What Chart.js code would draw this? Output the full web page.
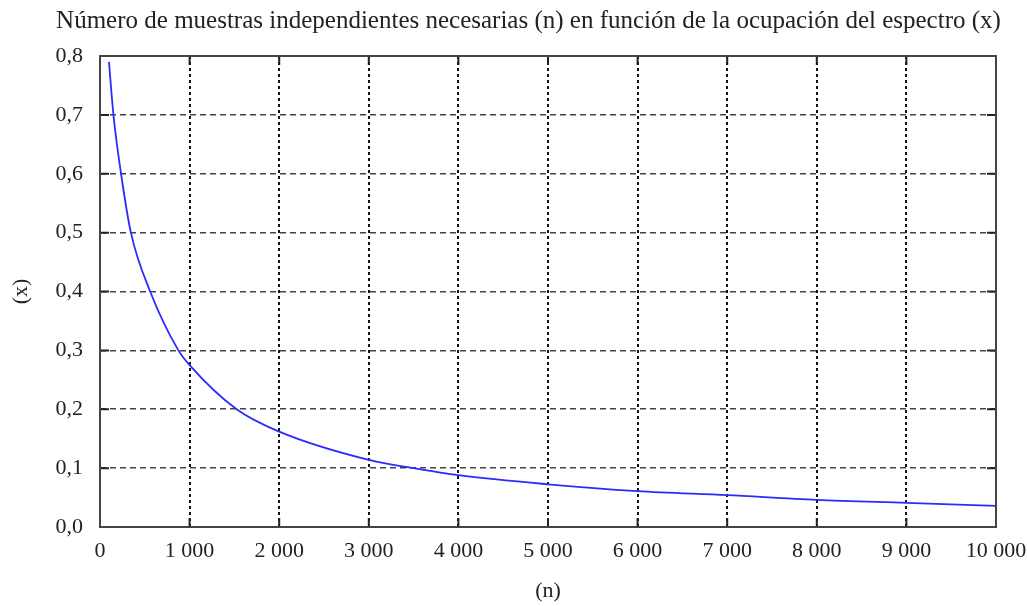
<!DOCTYPE html>
<html>
<head>
<meta charset="utf-8">
<script src="https://cdn.jsdelivr.net/npm/chart.js@4"></script>
<style>
html,body{margin:0;padding:0;background:#fff;}
#wrap{width:1027px;height:606px;}
</style>
</head>
<body>
<div id="wrap"><canvas id="c" width="1027" height="606"></canvas></div>
<script>
const chartTitle = 'Número de muestras independientes necesarias (n) en función de la ocupación del espectro (x)';
const xAxisTitle = '(n)';
const yAxisTitle = '(x)';
const samplesN = [100, 150, 235, 345, 560, 875, 1000, 1525, 2000, 3000, 3500, 4000, 5000, 6000, 7000, 8000, 9000, 10000];
const occupancyX = [0.79, 0.70, 0.60, 0.50, 0.40, 0.30, 0.275, 0.20, 0.162, 0.114, 0.10, 0.088, 0.0725, 0.061, 0.054, 0.046, 0.041, 0.036];
const xTickValues = [0, 1000, 2000, 3000, 4000, 5000, 6000, 7000, 8000, 9000, 10000];
const yTickValues = [0, 0.1, 0.2, 0.3, 0.4, 0.5, 0.6, 0.7, 0.8];

const FONT = "'Liberation Serif', 'Times New Roman', serif";

const fmtX = v => String(Math.round(v)).replace(/\B(?=(\d{3})+(?!\d))/g, ' ');
const fmtY = v => Number(v).toFixed(1).replace('.', ',');

const frameTicks = {
  id: 'frameTicks',
  afterDatasetsDraw(chart) {
    const {ctx, chartArea: a, scales} = chart;
    ctx.save();
    ctx.strokeStyle = '#222';
    ctx.lineWidth = 2;
    const L = 9;
    ctx.beginPath();
    scales.x.ticks.forEach(t => {
      const px = scales.x.getPixelForValue(t.value);
      ctx.moveTo(px, a.bottom); ctx.lineTo(px, a.bottom - L);
      ctx.moveTo(px, a.top); ctx.lineTo(px, a.top + L);
    });
    scales.y.ticks.forEach(t => {
      const py = scales.y.getPixelForValue(t.value);
      ctx.moveTo(a.left, py); ctx.lineTo(a.left + L, py);
      ctx.moveTo(a.right, py); ctx.lineTo(a.right - L, py);
    });
    ctx.stroke();
    ctx.strokeStyle = '#444';
    ctx.lineWidth = 2;
    ctx.strokeRect(a.left, a.top, a.right - a.left, a.bottom - a.top);
    ctx.restore();
  }
};

new Chart(document.getElementById('c'), {
  type: 'line',
  data: {
    datasets: [{
      data: samplesN.map((n, i) => ({x: n, y: occupancyX[i]})),
      borderColor: '#2b2bff',
      borderWidth: 1.8,
      pointRadius: 0,
      fill: false,
      cubicInterpolationMode: 'monotone'
    }]
  },
  options: {
    responsive: false,
    animation: false,
    layout: {padding: {left: 30, right: 0, top: 0, bottom: 0}},
    plugins: {
      legend: {display: false},
      tooltip: {enabled: false},
      title: {
        display: true,
        text: chartTitle,
        color: '#222',
        font: {family: FONT, size: 25, weight: 'normal'},
        padding: {top: 6, bottom: 20}
      }
    },
    scales: {
      x: {
        type: 'linear',
        min: 0, max: 10000,
        afterBuildTicks: s => { s.ticks = xTickValues.map(v => ({value: v})); },
        afterFit: s => { s.height = 79; s.paddingRight = 31; s.paddingLeft = 0; },
        ticks: {
          callback: v => fmtX(v),
          color: '#222',
          font: {family: FONT, size: 22},
          padding: 11,
          maxRotation: 0,
          autoSkip: false
        },
        grid: {
          color: '#111',
          lineWidth: 2,
          drawTicks: false,
          tickLength: 0
        },
        border: {display: false, dash: [3, 3]},
        title: {
          display: true,
          text: xAxisTitle,
          color: '#222',
          font: {family: FONT, size: 22},
          padding: {top: 0, bottom: 2}
        }
      },
      y: {
        type: 'linear',
        min: 0, max: 0.8,
        afterBuildTicks: s => { s.ticks = yTickValues.map(v => ({value: v})); },
        afterFit: s => { s.width = 70; },
        ticks: {
          callback: v => fmtY(v),
          color: '#222',
          font: {family: FONT, size: 22},
          padding: 17
        },
        grid: {
          color: '#444',
          lineWidth: 1.6,
          drawTicks: false,
          tickLength: 0
        },
        border: {display: false, dash: [6, 4]},
        title: {
          display: true,
          text: yAxisTitle,
          color: '#222',
          font: {family: FONT, size: 22},
          padding: {top: -22, bottom: 0}
        }
      }
    }
  },
  plugins: [frameTicks]
});
</script>
</body>
</html>
